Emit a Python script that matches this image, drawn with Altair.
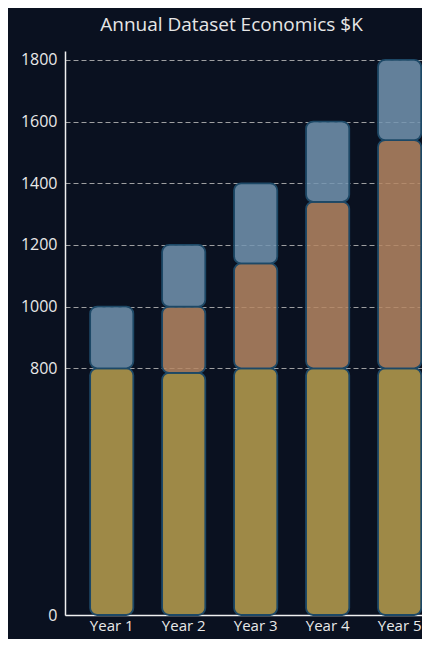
import altair as alt
import pandas as pd

years = ["Year 1", "Year 2", "Year 3", "Year 4", "Year 5"]
base_vals = [800, 785, 800, 800, 800]
growth_vals = [0, 215, 340, 540, 740]
extra_vals = [200, 200, 260, 260, 260]
series = ["Base", "Growth", "Extra"]
colors = ["#b89f4f", "#b58663", "#7394b0"]
y_ticks = [0, 800, 1000, 1200, 1400, 1600, 1800]

rows = []
for i, y in enumerate(years):
    for k, (name, vals) in enumerate(zip(series, [base_vals, growth_vals, extra_vals])):
        if vals[i] > 0:
            rows.append({"year": y, "series": name, "value": vals[i], "order": k})
df = pd.DataFrame(rows)

chart = alt.Chart(df).transform_stack(
    stack="value", as_=["v0", "v1"], groupby=["year"],
    sort=[alt.SortField("order", order="ascending")]
).mark_bar(
    cornerRadius=7, stroke="#1d4866", strokeWidth=1.8, fillOpacity=0.85
).encode(
    x=alt.X("year:N", sort=years, title=None,
            scale=alt.Scale(paddingInner=0.4, paddingOuter=0.18, align=0.97),
            axis=alt.Axis(labelAngle=0, ticks=False, domainColor="#f0f0f0",
                          domainWidth=1.5, labelColor="#e8e8e8", labelFontSize=15,
                          labelPadding=3, labelFont="Open Sans", grid=False)),
    y=alt.Y("v0:Q", title=None,
            scale=alt.Scale(domain=[0, 1829], nice=False),
            axis=alt.Axis(values=y_ticks, ticks=False, domainColor="#f0f0f0",
                          domainWidth=1.5, labelColor="#e8e8e8", labelFontSize=16,
                          labelPadding=8, labelFont="Open Sans", format="d",
                          gridColor="#b8b8b8", gridDash=[5, 3], gridWidth=1,
                          gridOpacity=0.85)),
    y2="v1:Q",
    color=alt.Color("series:N", sort=series,
                    scale=alt.Scale(domain=series, range=colors), legend=None),
).properties(
    width=357, height=564,
    title=alt.TitleParams("Annual Dataset Economics $K", fontSize=19, color="#e6e6e6",
                          font="Open Sans", fontWeight="normal", dx=-12, offset=16),
    autosize=alt.AutoSizeParams(type="none"),
    padding={"left": 57, "top": 43, "right": 0, "bottom": 24},
    background="#0a1120",
).configure_view(stroke=None)

chart.save("out.html", embed_options={"renderer": "svg", "actions": False})
